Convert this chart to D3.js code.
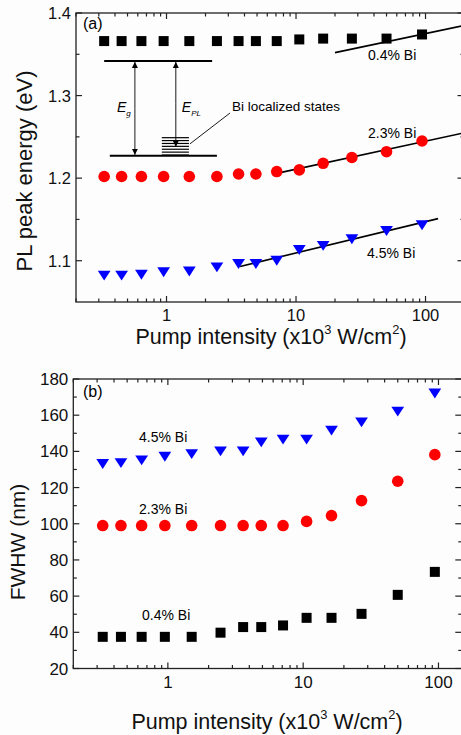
<html>
<head>
<style>
  body { margin: 0; background: #fdfdfd; }
  svg { display: block; font-family: "Liberation Sans", Arial, sans-serif; }
  .frame { fill: none; stroke: #222; stroke-width: 1.3px; }
  .tick { stroke: #222; stroke-width: 1.2px; }
  .ticklabel { fill: #111; }
  .fit { fill: none; stroke: #000; stroke-width: 1.6px; }
</style>
</head>
<body>
<svg id="fig" width="461" height="735"></svg>
<script src="https://d3js.org/d3.v7.min.js"></script>
<script>
// pump intensity (x10^3 W/cm^2), same for every series
const pump = [0.33, 0.45, 0.64, 0.95, 1.5, 2.45, 3.6, 4.9, 7.1, 10.6, 16.2, 27, 50, 94]

// (a) PL peak energy (eV)
const peak04 = [1.366, 1.366, 1.366, 1.366, 1.366, 1.366, 1.366, 1.366, 1.366, 1.368, 1.369, 1.369, 1.369, 1.374]
const peak23 = [1.202, 1.202, 1.202, 1.202, 1.202, 1.202, 1.205, 1.205, 1.208, 1.210, 1.218, 1.225, 1.232, 1.245]
const peak45 = [1.082, 1.082, 1.083, 1.086, 1.087, 1.092, 1.096, 1.096, 1.100, 1.113, 1.118, 1.126, 1.136, 1.143]

// linear fits (log x), end points
const fit04 = [[20, 1.352], [200, 1.385]]
const fit23 = [[7.7, 1.207], [200, 1.255]]
const fit45 = [[3.7, 1.093], [125, 1.151]]

// (b) FWHW (nm)
const fwhw04 = [37.5, 37.5, 37.5, 37.5, 37.5, 39.8, 42.9, 42.9, 43.8, 48, 48, 50.2, 60.7, 73.4]
const fwhw23 = [99, 99, 99, 99, 99, 99, 99, 99, 99, 101.3, 104.5, 112.8, 123.5, 138.2]
const fwhw45 = [133, 133.5, 135, 137, 138.5, 140, 140, 145, 146.5, 146.5, 151.5, 156, 162, 172]

const xTicks = [1, 10, 100]
const yTicksA = [1.1, 1.2, 1.3, 1.4]
const yTicksB = [20, 40, 60, 80, 100, 120, 140, 160, 180]

// inset band diagram, in data units of panel (a)
const cbLevel = {x0: 0.33, x1: 2.25, y: 1.342}
const vbLevel = {x0: 0.365, x1: 2.45, y: 1.227}
const egArrowX = 0.57
const eplArrowX = 1.18
const eplArrowEnd = 1.238
const bandTail = {x0: 0.92, x1: 1.49}
const tailStates = [1.249, 1.2455, 1.242, 1.2385, 1.235, 1.2315, 1.228]

const svg = d3.select("#fig")
svg.append("rect").attr("width", 461).attr("height", 735).attr("fill", "#fdfdfd")

const defs = svg.append("defs")
defs.append("marker").attr("id", "head")
    .attr("viewBox", "0 0 10 10").attr("refX", 10).attr("refY", 5)
    .attr("markerWidth", 6).attr("markerHeight", 7).attr("orient", "auto")
    .attr("markerUnits", "userSpaceOnUse")
  .append("path").attr("d", "M0,0L10,5L0,10Z").attr("fill", "#000")

function drawPanel(g, x, y, yTicks, yMinor, fontSize, yFmt) {
    let [x0, x1] = x.range()
    let [y0, y1] = y.range()
    g.append("rect").attr("class", "frame")
        .attr("x", x0).attr("y", y1).attr("width", x1 - x0).attr("height", y0 - y1)

    // x ticks, log minors on bottom and top
    let dom = x.domain()
    let minors = []
    for (let d = -1; d <= 2; d++) {
        for (let m = 1; m < 10; m++) {
            let v = m * Math.pow(10, d)
            if (v >= dom[0] && v <= dom[1]) minors.push(v)
        }
    }
    minors.forEach(v => {
        let len = xTicks.includes(v) ? 6 : 3.5
        g.append("line").attr("class", "tick").attr("x1", x(v)).attr("x2", x(v)).attr("y1", y0).attr("y2", y0 - len)
        g.append("line").attr("class", "tick").attr("x1", x(v)).attr("x2", x(v)).attr("y1", y1).attr("y2", y1 + len)
    })
    xTicks.forEach(v => {
        g.append("text").attr("class", "ticklabel")
            .attr("x", x(v)).attr("y", y0 + 19)
            .attr("text-anchor", "middle").attr("font-size", fontSize)
            .text(v)
    })

    // y ticks on left and right
    yTicks.forEach(v => {
        g.append("line").attr("class", "tick").attr("x1", x0).attr("x2", x0 + 6).attr("y1", y(v)).attr("y2", y(v))
        g.append("line").attr("class", "tick").attr("x1", x1).attr("x2", x1 - 7).attr("y1", y(v)).attr("y2", y(v))
        g.append("text").attr("class", "ticklabel")
            .attr("x", x0 - 5).attr("y", y(v)).attr("dy", "0.36em")
            .attr("text-anchor", "end").attr("font-size", fontSize)
            .text(yFmt(v))
    })
    yMinor.forEach(v => {
        g.append("line").attr("class", "tick").attr("x1", x0).attr("x2", x0 + 3.5).attr("y1", y(v)).attr("y2", y(v))
        g.append("line").attr("class", "tick").attr("x1", x1).attr("x2", x1 - 4).attr("y1", y(v)).attr("y2", y(v))
    })
}

function pumpLabel(g, cx, by, size) {
    let t = g.append("text").attr("x", cx).attr("y", by)
        .attr("text-anchor", "middle").attr("font-size", size).attr("fill", "#111")
    t.append("tspan").text("Pump intensity (x10")
    t.append("tspan").attr("dy", -size * 0.45).attr("font-size", size * 0.6).text("3")
    t.append("tspan").attr("dy", size * 0.45).text(" W/cm")
    t.append("tspan").attr("dy", -size * 0.45).attr("font-size", size * 0.6).text("2")
    t.append("tspan").attr("dy", size * 0.45).text(")")
}

function drawSeries(g, x, y, vals, kind, color, r) {
    let pts = pump.map((p, i) => [x(p), y(vals[i])])
    if (kind == "square") {
        g.selectAll(null).data(pts).enter().append("rect")
            .attr("x", d => d[0] - r).attr("y", d => d[1] - r)
            .attr("width", 2 * r).attr("height", 2 * r).attr("fill", color)
    } else if (kind == "circle") {
        g.selectAll(null).data(pts).enter().append("circle")
            .attr("cx", d => d[0]).attr("cy", d => d[1]).attr("r", r).attr("fill", color)
    } else {
        // down triangle, box centred on the point
        g.selectAll(null).data(pts).enter().append("path")
            .attr("d", d => "M" + (d[0] - r * 1.1) + "," + (d[1] - r * 0.85) +
                           "L" + (d[0] + r * 1.1) + "," + (d[1] - r * 0.85) +
                           "L" + d[0] + "," + (d[1] + r * 0.85) + "Z")
            .attr("fill", color)
    }
}

// ---------- panel (a)
let xA = d3.scaleLog().domain([0.2, 200]).range([76, 76 + 3 * 129.5])
let yA = d3.scaleLinear().domain([1.05, 1.4]).range([302, 13])
let gA = svg.append("g")

drawPanel(gA, xA, yA, yTicksA, [1.15, 1.25, 1.35], 16.5, d3.format(".1f"))

let line = d3.line().x(d => xA(d[0])).y(d => yA(d[1]))
gA.append("path").datum(fit04).attr("class", "fit").attr("d", line)
gA.append("path").datum(fit23).attr("class", "fit").attr("d", line)
gA.append("path").datum(fit45).attr("class", "fit").attr("d", line)

drawSeries(gA, xA, yA, peak04, "square", "#000", 5)
drawSeries(gA, xA, yA, peak23, "circle", "#f00", 5.8)
drawSeries(gA, xA, yA, peak45, "triangle", "#00f", 5.8)

gA.append("text").attr("x", 83).attr("y", 29).attr("font-size", 16).text("(a)")
gA.append("text").attr("x", 368).attr("y", 60).attr("font-size", 14).text("0.4% Bi")
gA.append("text").attr("x", 368).attr("y", 138).attr("font-size", 14).text("2.3% Bi")
gA.append("text").attr("x", 367).attr("y", 258).attr("font-size", 14).text("4.5% Bi")

// band diagram inset
gA.append("line").attr("x1", xA(cbLevel.x0)).attr("x2", xA(cbLevel.x1)).attr("y1", yA(cbLevel.y)).attr("y2", yA(cbLevel.y))
    .attr("stroke", "#000").attr("stroke-width", 2)
gA.append("line").attr("x1", xA(vbLevel.x0)).attr("x2", xA(vbLevel.x1)).attr("y1", yA(vbLevel.y)).attr("y2", yA(vbLevel.y))
    .attr("stroke", "#000").attr("stroke-width", 2)
tailStates.forEach(v => {
    gA.append("line").attr("x1", xA(bandTail.x0)).attr("x2", xA(bandTail.x1)).attr("y1", yA(v)).attr("y2", yA(v))
        .attr("stroke", "#000").attr("stroke-width", 1.2)
})
// Eg double arrow
gA.append("line").attr("x1", xA(egArrowX)).attr("x2", xA(egArrowX))
    .attr("y1", (yA(cbLevel.y) + yA(vbLevel.y)) / 2).attr("y2", yA(cbLevel.y) + 1)
    .attr("stroke", "#000").attr("stroke-width", 0.9).attr("marker-end", "url(#head)")
gA.append("line").attr("x1", xA(egArrowX)).attr("x2", xA(egArrowX))
    .attr("y1", (yA(cbLevel.y) + yA(vbLevel.y)) / 2).attr("y2", yA(vbLevel.y) - 1)
    .attr("stroke", "#000").attr("stroke-width", 0.9).attr("marker-end", "url(#head)")
// EPL double arrow
gA.append("line").attr("x1", xA(eplArrowX)).attr("x2", xA(eplArrowX))
    .attr("y1", (yA(cbLevel.y) + yA(eplArrowEnd)) / 2).attr("y2", yA(cbLevel.y) + 1)
    .attr("stroke", "#000").attr("stroke-width", 0.9).attr("marker-end", "url(#head)")
gA.append("line").attr("x1", xA(eplArrowX)).attr("x2", xA(eplArrowX))
    .attr("y1", (yA(cbLevel.y) + yA(eplArrowEnd)) / 2).attr("y2", yA(eplArrowEnd))
    .attr("stroke", "#000").attr("stroke-width", 0.9).attr("marker-end", "url(#head)")

let eg = gA.append("text").attr("x", xA(egArrowX) - 18).attr("y", 112).attr("font-size", 14)
eg.append("tspan").attr("font-style", "italic").text("E")
eg.append("tspan").attr("dy", 4).attr("font-size", 8).attr("font-style", "italic").text("g")
let epl = gA.append("text").attr("x", xA(eplArrowX) + 6).attr("y", 112).attr("font-size", 14)
epl.append("tspan").attr("font-style", "italic").text("E")
epl.append("tspan").attr("dy", 4).attr("font-size", 8).attr("font-style", "italic").text("PL")

gA.append("text").attr("x", 232).attr("y", 111).attr("font-size", 13.5).text("Bi localized states")
gA.append("line").attr("x1", 230).attr("y1", 113).attr("x2", xA(bandTail.x1) + 1).attr("y2", yA(1.2415))
    .attr("stroke", "#000").attr("stroke-width", 0.9)

gA.append("text").attr("transform", "translate(32,171) rotate(-90)")
    .attr("text-anchor", "middle").attr("font-size", 22).attr("fill", "#111")
    .text("PL peak energy (eV)")
pumpLabel(gA, 271, 344, 21.5)

// ---------- panel (b)
let xB = d3.scaleLog().domain([0.2, 150]).range([73.3, 73.3 + Math.log10(750) * 135.3])
let yB = d3.scaleLinear().domain([20, 180]).range([668.5, 379])
let gB = svg.append("g")

drawPanel(gB, xB, yB, yTicksB, [30, 50, 70, 90, 110, 130, 150, 170], 17, d3.format("d"))

drawSeries(gB, xB, yB, fwhw04, "square", "#000", 5)
drawSeries(gB, xB, yB, fwhw23, "circle", "#f00", 5.8)
drawSeries(gB, xB, yB, fwhw45, "triangle", "#00f", 5.8)

gB.append("text").attr("x", 83).attr("y", 397).attr("font-size", 16).text("(b)")
gB.append("text").attr("x", 139).attr("y", 442).attr("font-size", 14).text("4.5% Bi")
gB.append("text").attr("x", 139).attr("y", 514).attr("font-size", 14).text("2.3% Bi")
gB.append("text").attr("x", 142).attr("y", 620).attr("font-size", 14).text("0.4% Bi")

gB.append("text").attr("transform", "translate(25,542) rotate(-90)")
    .attr("text-anchor", "middle").attr("font-size", 21).attr("fill", "#111")
    .text("FWHW (nm)")
pumpLabel(gB, 267, 729, 21.5)
</script>
</body>
</html>
